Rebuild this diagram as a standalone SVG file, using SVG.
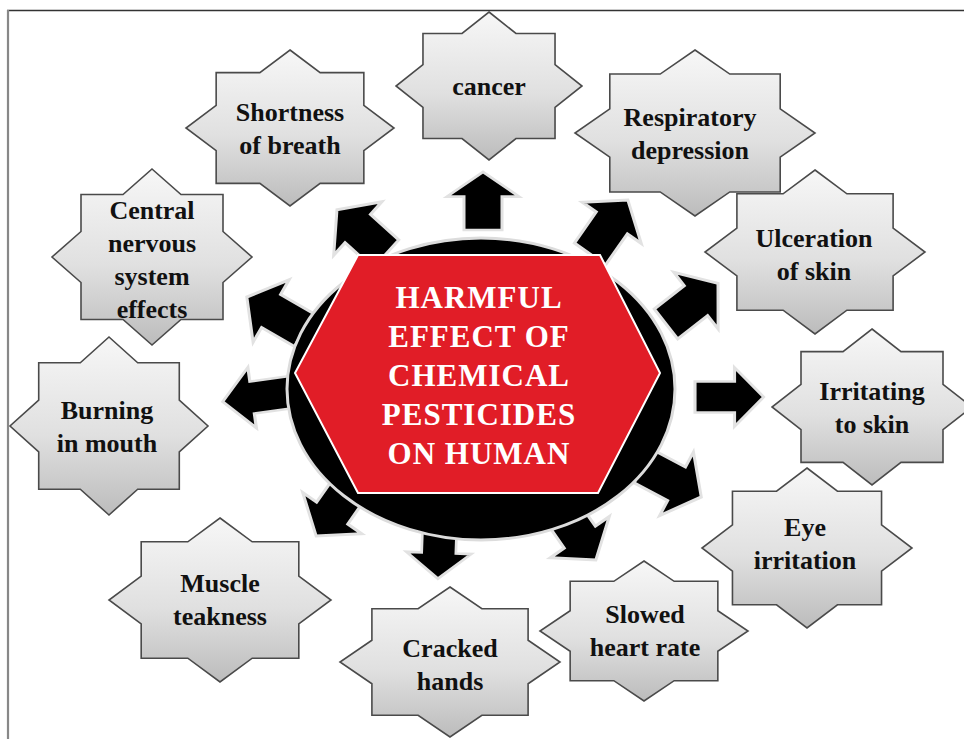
<svg xmlns="http://www.w3.org/2000/svg" xmlns:xlink="http://www.w3.org/1999/xlink" width="964" height="739" viewBox="0 0 964 739">
<defs>
<linearGradient id="g" x1="0" y1="0" x2="0" y2="1">
<stop offset="0" stop-color="#f7f7f7"/>
<stop offset="0.55" stop-color="#e0e0e0"/>
<stop offset="1" stop-color="#bcbcbc"/>
</linearGradient>
<polygon id="star" points="0,-1 0.29,-0.71 0.71,-0.71 0.71,-0.29 1,0 0.71,0.29 0.71,0.71 0.29,0.71 0,1 -0.29,0.71 -0.71,0.71 -0.71,0.29 -1,0 -0.71,-0.29 -0.71,-0.71 -0.29,-0.71" fill="url(#g)" stroke="#4a4a4a" stroke-width="1.6" vector-effect="non-scaling-stroke" stroke-linejoin="miter"/>
<polygon id="arr" points="0,-19 38,-19 38,-36 66,0 38,36 38,19 0,19" fill="#000" stroke="#e2e2e2" stroke-width="3" stroke-linejoin="miter"/>
</defs>
<style>
.t{font-family:"Liberation Serif","Times New Roman",serif;font-weight:bold;font-size:26px;fill:#111;text-anchor:middle}
.c{font-family:"Liberation Serif","Times New Roman",serif;font-weight:bold;font-size:31px;fill:#fff;text-anchor:middle;letter-spacing:1px}
</style>
<rect width="964" height="739" fill="#fff"/>
<line x1="7" y1="10.5" x2="964" y2="10.5" stroke="#333" stroke-width="1.5"/>
<line x1="8" y1="10" x2="8" y2="739" stroke="#888" stroke-width="2.2"/>

<g id="connectors">
<use xlink:href="#arr" transform="translate(483,230) rotate(-90) scale(0.88,1)"/>
<use xlink:href="#arr" transform="translate(386,254) rotate(-138)"/>
<use xlink:href="#arr" transform="translate(304,330) rotate(-150)"/>
<use xlink:href="#arr" transform="translate(292,392) rotate(172) scale(1.06,0.85)"/>
<use xlink:href="#arr" transform="translate(354,482) rotate(125)"/>
<use xlink:href="#arr" transform="translate(440,518) rotate(92) scale(0.92,0.9)"/>
<use xlink:href="#arr" transform="translate(558,506) rotate(55)"/>
<use xlink:href="#arr" transform="translate(643,466) rotate(28)"/>
<use xlink:href="#arr" transform="translate(695,397) scale(1.04,0.82)"/>
<use xlink:href="#arr" transform="translate(666,324) rotate(-38)"/>
<use xlink:href="#arr" transform="translate(590,254) rotate(-55)"/>
</g>

<g id="center">
<ellipse cx="481" cy="389" rx="194" ry="151" fill="#000" stroke="#dcdcdc" stroke-width="3"/>
<polygon points="358,255 600,255 660,373 598,493 358,493 295,373" fill="#e11d27" stroke="#fff" stroke-width="2"/>
<text class="c" x="479" y="308">HARMFUL</text>
<text class="c" x="479" y="347">EFFECT OF</text>
<text class="c" x="479" y="386">CHEMICAL</text>
<text class="c" x="479" y="425">PESTICIDES</text>
<text class="c" x="479" y="464">ON HUMAN</text>
</g>

<g id="cancer">
<use xlink:href="#star" transform="translate(489,86) scale(93,74)"/>
<text class="t" x="489" y="95">cancer</text>
</g>
<g id="shortness">
<use xlink:href="#star" transform="translate(290,128) scale(104,78)"/>
<text class="t" x="290" y="121">Shortness</text>
<text class="t" x="290" y="154">of breath</text>
</g>
<g id="respiratory">
<use xlink:href="#star" transform="translate(695,133) scale(120,83)"/>
<text class="t" x="690" y="126">Respiratory</text>
<text class="t" x="690" y="159">depression</text>
</g>
<g id="central">
<use xlink:href="#star" transform="translate(152,257) scale(100,88)"/>
<text class="t" x="152" y="219">Central</text>
<text class="t" x="152" y="252">nervous</text>
<text class="t" x="152" y="285">system</text>
<text class="t" x="152" y="318">effects</text>
</g>
<g id="ulceration">
<use xlink:href="#star" transform="translate(815,252) scale(110,82)"/>
<text class="t" x="814" y="247">Ulceration</text>
<text class="t" x="814" y="280">of skin</text>
</g>
<g id="irritating">
<use xlink:href="#star" transform="translate(872,407) scale(100,78)"/>
<text class="t" x="872" y="400">Irritating</text>
<text class="t" x="872" y="433">to skin</text>
</g>
<g id="burning">
<use xlink:href="#star" transform="translate(109,426) scale(99,89)"/>
<text class="t" x="107" y="419">Burning</text>
<text class="t" x="107" y="452">in mouth</text>
</g>
<g id="eye">
<use xlink:href="#star" transform="translate(807,548) scale(105,80)"/>
<text class="t" x="805" y="536">Eye</text>
<text class="t" x="805" y="569">irritation</text>
</g>
<g id="muscle">
<use xlink:href="#star" transform="translate(220,600) scale(111,82)"/>
<text class="t" x="220" y="592">Muscle</text>
<text class="t" x="220" y="625">teakness</text>
</g>
<g id="slowed">
<use xlink:href="#star" transform="translate(644,631) scale(104,70)"/>
<text class="t" x="645" y="623">Slowed</text>
<text class="t" x="645" y="656">heart rate</text>
</g>
<g id="cracked">
<use xlink:href="#star" transform="translate(450,662) scale(110,75)"/>
<text class="t" x="450" y="657">Cracked</text>
<text class="t" x="450" y="690">hands</text>
</g>
</svg>
